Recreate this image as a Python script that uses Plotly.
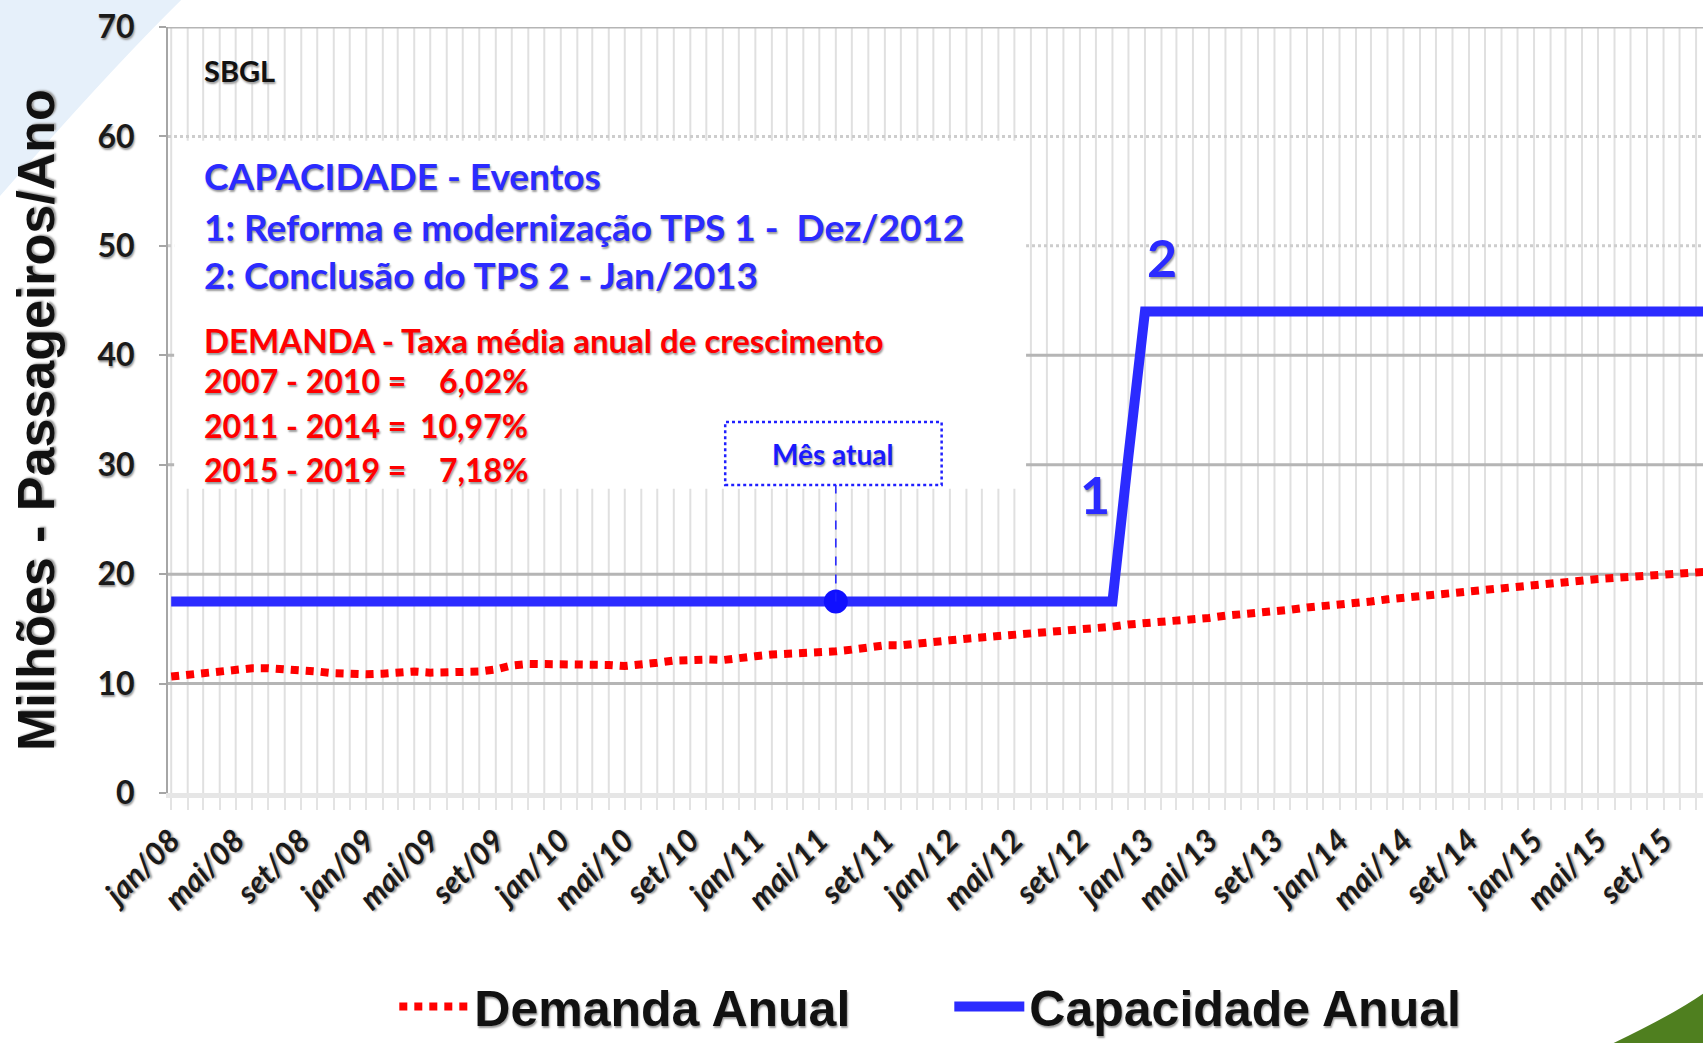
import pandas as pd
import plotly.graph_objects as go

# Dados mensais SBGL (milhões de passageiros/ano)
meses = pd.date_range("2008-01-01", "2015-12-01", freq="MS")

demanda = [
    10.65, 10.8, 11.0, 11.15, 11.3, 11.4, 11.4, 11.35, 11.2, 11.1, 10.95, 10.85,      # 2008
    10.85, 10.9, 11.0, 11.1, 11.0, 11.0, 11.0, 11.1, 11.3, 11.65, 11.8, 11.8,         # 2009
    11.8, 11.8, 11.8, 11.7, 11.6, 11.7, 11.9, 12.1, 12.2, 12.2, 12.15, 12.4,          # 2010
    12.5, 12.65, 12.7, 12.8, 12.8, 12.95, 13.1, 13.3, 13.5, 13.5, 13.7, 13.85,        # 2011
    13.95, 14.1, 14.2, 14.3, 14.45, 14.55, 14.7, 14.85, 14.95, 15.05, 15.2, 15.4,     # 2012
    15.5, 15.6, 15.75, 15.9, 16.0, 16.2, 16.3, 16.4, 16.55, 16.75, 16.95, 17.05,      # 2013
    17.2, 17.3, 17.5, 17.7, 17.85, 17.95, 18.1, 18.2, 18.45, 18.6, 18.8, 18.9,        # 2014
    19.0, 19.15, 19.35, 19.45, 19.55, 19.65, 19.7, 19.8, 19.95, 20.05, 20.15, 20.25,  # 2015
]

capacidade = [
    17.5, 17.5, 17.5, 17.5, 17.5, 17.5, 17.5, 17.5, 17.5, 17.5, 17.5, 17.5,  # 2008
    17.5, 17.5, 17.5, 17.5, 17.5, 17.5, 17.5, 17.5, 17.5, 17.5, 17.5, 17.5,  # 2009
    17.5, 17.5, 17.5, 17.5, 17.5, 17.5, 17.5, 17.5, 17.5, 17.5, 17.5, 17.5,  # 2010
    17.5, 17.5, 17.5, 17.5, 17.5, 17.5, 17.5, 17.5, 17.5, 17.5, 17.5, 17.5,  # 2011
    17.5, 17.5, 17.5, 17.5, 17.5, 17.5, 17.5, 17.5, 17.5, 17.5, 17.5, 30.8,  # 2012
    44.0, 44.0, 44.0, 44.0, 44.0, 44.0, 44.0, 44.0, 44.0, 44.0, 44.0, 44.0,  # 2013
    44.0, 44.0, 44.0, 44.0, 44.0, 44.0, 44.0, 44.0, 44.0, 44.0, 44.0, 44.0,  # 2014
    44.0, 44.0, 44.0, 44.0, 44.0, 44.0, 44.0, 44.0, 44.0, 44.0, 44.0, 44.0,  # 2015
]

rotulos_x = ["jan/08", "mai/08", "set/08", "jan/09", "mai/09", "set/09",
             "jan/10", "mai/10", "set/10", "jan/11", "mai/11", "set/11",
             "jan/12", "mai/12", "set/12", "jan/13", "mai/13", "set/13",
             "jan/14", "mai/14", "set/14", "jan/15", "mai/15", "set/15"]
ticks_y = [0, 10, 20, 30, 40, 50, 60, 70]
grade_solida = [10, 20, 30, 40, 70]
grade_pontilhada = [50, 60]

mes_atual = "2011-06-01"
cap_atual = 17.5

AZUL = "#2b2bff"
VERMELHO = "#ff0000"
SOMBRA = "1px 2px 2px #9a9a9a"
FONTE = "Lato"

fig = go.Figure()

fig.add_trace(go.Scatter(x=meses, y=demanda, name="Demanda Anual", mode="lines",
                         line=dict(color=VERMELHO, width=8, dash="8px,7px")))
fig.add_trace(go.Scatter(x=meses, y=capacidade, name="Capacidade Anual", mode="lines",
                         line=dict(color=AZUL, width=10)))
fig.add_trace(go.Scatter(x=[mes_atual], y=[cap_atual], mode="markers", showlegend=False,
                         marker=dict(color="#1010ff", size=24)))

# fundo decorativo do slide
fig.add_shape(type="path", xref="paper", yref="paper", layer="below",
              path="M -0.12,1.04 L 0.011,1.04 Q -0.04,0.94 -0.12,0.755 Z",
              fillcolor="#e6f0fa", line_width=0)
fig.add_shape(type="path", xref="paper", yref="paper", layer="below",
              path="M 0.938,-0.33 Q 0.98,-0.29 1.0,-0.262 L 1.0,-0.33 Z",
              fillcolor="#4f7f1f", line_width=0)

# grade vertical (mensal)
for m in meses:
    fig.add_shape(type="line", xref="x", yref="paper", x0=m, x1=m, y0=0, y1=1,
                  line=dict(color="#e0e0e0", width=2), layer="below")

# grade horizontal
for v in grade_solida:
    fig.add_shape(type="line", xref="paper", yref="y", x0=0, x1=1, y0=v, y1=v,
                  line=dict(color="#b5b5b5", width=3), layer="below")
for v in grade_pontilhada:
    fig.add_shape(type="line", xref="paper", yref="y", x0=0, x1=1, y0=v, y1=v,
                  line=dict(color="#cdcdcd", width=3, dash="dot"), layer="below")

# caixa de texto branca
fig.add_shape(type="rect", xref="paper", yref="y", x0=0.004, x1=0.559, y0=27.8, y1=59.6,
              fillcolor="white", line_width=0, layer="below")

# caixa "Mês atual"
fig.add_shape(type="rect", xref="paper", yref="y", x0=0.363, x1=0.504, y0=28.15, y1=33.9,
              fillcolor="white", line=dict(color="#2020ff", width=2.5, dash="dot"), layer="above")
fig.add_shape(type="line", xref="x", yref="y", x0=mes_atual, x1=mes_atual, y0=cap_atual, y1=28.15,
              line=dict(color="#2020ff", width=1.5, dash="dash"), layer="above")


def txt(x, y, s, cor, tam, xanchor="left"):
    fig.add_annotation(x=x, y=y, xref="paper", yref="y", text=s, showarrow=False,
                       xanchor=xanchor, yanchor="middle",
                       font=dict(family=FONTE, size=tam, color=cor, weight="bold", shadow=SOMBRA))


txt(0.022, 66.0, "SBGL", "#111111", 29)
txt(0.022, 56.4, "CAPACIDADE - Eventos", AZUL, 37)
txt(0.022, 51.8, "1: Reforma e modernização TPS 1 -  Dez/2012", AZUL, 37)
txt(0.022, 47.35, "2: Conclusão do TPS 2 - Jan/2013", AZUL, 37)
txt(0.022, 41.4, "DEMANDA - Taxa média anual de crescimento", VERMELHO, 33)
txt(0.022, 37.7, "2007 - 2010 =", VERMELHO, 32)
txt(0.236, 37.7, "6,02%", VERMELHO, 32, xanchor="right")
txt(0.022, 33.6, "2011 - 2014 =", VERMELHO, 32)
txt(0.236, 33.6, "10,97%", VERMELHO, 32, xanchor="right")
txt(0.022, 29.6, "2015 - 2019 =", VERMELHO, 32)
txt(0.236, 29.6, "7,18%", VERMELHO, 32, xanchor="right")
txt(0.433, 31.0, "Mês atual", "#1a1aff", 28, xanchor="center")
txt(0.604, 27.3, "1", AZUL, 52, xanchor="center")
txt(0.6476, 49.0, "2", AZUL, 52, xanchor="center")

fig.add_annotation(x=-0.086, y=0.487, xref="paper", yref="paper", text="Milhões - Passageiros/Ano",
                   textangle=-90, showarrow=False, xanchor="center", yanchor="middle",
                   font=dict(family="Liberation Sans", size=52, color="#111111", weight="bold",
                             shadow=SOMBRA))

fig.update_xaxes(type="date", range=["2007-12-26", "2015-11-14"], automargin=False,
                 tickvals=meses[::4], ticktext=rotulos_x, tickangle=-45,
                 tickfont=dict(family=FONTE, size=31, color="#1a1a1a", weight="bold",
                               style="italic", shadow=SOMBRA),
                 showgrid=False, ticks="outside", ticklen=12, tickcolor="#e3e3e3", tickwidth=2,
                 minor=dict(dtick="M1", tick0="2008-01-01", showgrid=False,
                            ticks="outside", ticklen=12, tickcolor="#e3e3e3"),
                 showline=True, linecolor="#e6e6e6", linewidth=5, zeroline=False,
                 ticklabelstandoff=0)
fig.update_yaxes(range=[0, 70], tickvals=ticks_y, showgrid=False, zeroline=False, automargin=False,
                 tickfont=dict(family=FONTE, size=32, color="#1a1a1a", weight="bold", shadow=SOMBRA),
                 ticks="outside", ticklen=7, tickcolor="#a6a6a6", tickwidth=2,
                 showline=True, linecolor="#a6a6a6", linewidth=2, ticklabelstandoff=18)

fig.update_layout(width=1703, height=1043, margin=dict(l=168, r=0, t=27, b=250),
                  paper_bgcolor="white", plot_bgcolor="rgba(0,0,0,0)",
                  legend=dict(orientation="h", xref="paper", yref="container",
                              x=0.509, y=0.035, xanchor="center", yanchor="middle",
                              itemwidth=70, entrywidth=470,
                              font=dict(family="Liberation Sans", size=50, color="#111111",
                                        weight="bold", shadow=SOMBRA)))

# remove a margem padrão da página para a figura ocupar a janela inteira
fig.write_html("out.html", config={"displayModeBar": False},
               post_script="document.body.style.margin='0';document.body.style.overflow='hidden';")
